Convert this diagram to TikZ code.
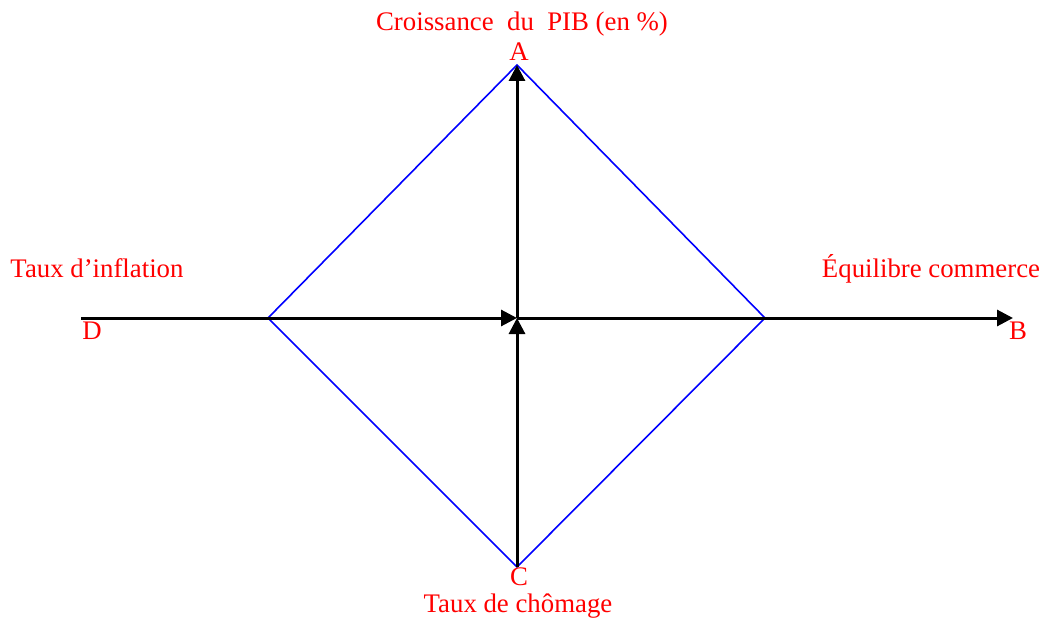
\documentclass[tikz,border=0pt]{standalone}
\usepackage{fontspec}
\setmainfont{Liberation Serif}
\usetikzlibrary{arrows.meta,positioning}

\begin{document}
\begin{tikzpicture}[x=1pt, y=-1pt,
  lbl/.style={text=red, font=\fontsize{26.8}{30}\selectfont, inner sep=0pt, anchor=base},
  arr/.style={-{Triangle[length=16pt,width=16pt]}, line width=3pt},
  carre/.style={blue, line width=1.6pt},
]
\useasboundingbox (0,0) rectangle (1042,618);
% sommets du carre magique
\coordinate (O) at (517,318);
\coordinate (sA) at (517,65);
\coordinate (sB) at (765,318);
\coordinate (sC) at (517,567);
\coordinate (sD) at (268,318);
% extremites des axes
\coordinate (eD) at (81,318);
\coordinate (eB) at (1013,318);

% carre
\draw[carre] (sA) -- (sB) -- (sC) -- (sD) -- cycle;

% axes
\draw[arr] (eD) -- (O);
\draw[arr] (O) -- (eB);
\draw[arr] (sC) -- (O);
\draw[arr] (O) -- (sA);

% etiquettes
\node[lbl] (tA) at (522,31) {Croissance\ \ du\ \ PIB (en \%)};
\node[lbl] (lA) at (519,61) {A};
\node[lbl] (tD) at (97,277) {Taux d’inflation};
\node[lbl] (lD) at (92,339) {D};
\node[lbl] (tB) at (931,277) {Équilibre commerce};
\node[lbl] (lB) at (1018,339) {B};
\node[lbl] (lC) at (519,585) {C};
\node[lbl] (tC) at (518,612) {Taux de chômage};
\end{tikzpicture}
\end{document}
